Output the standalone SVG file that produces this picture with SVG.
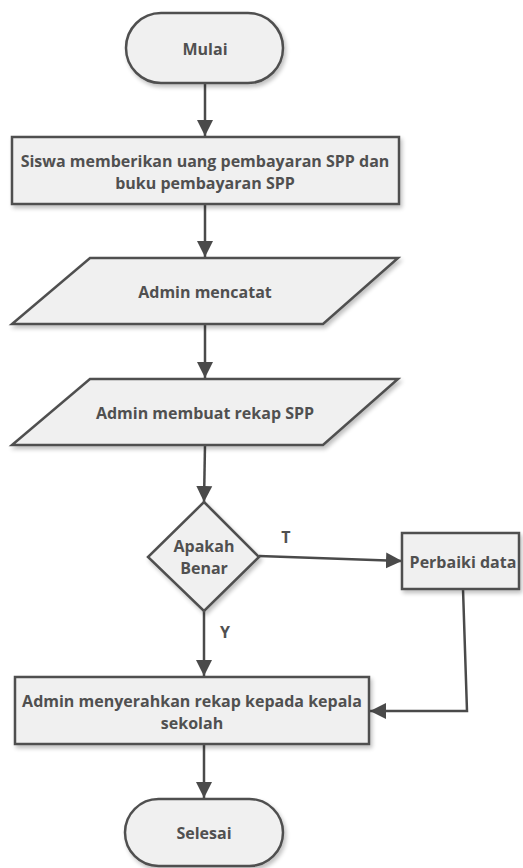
<svg xmlns="http://www.w3.org/2000/svg" width="523" height="868" viewBox="0 0 523 868">
<defs>
<marker id="ah" markerUnits="userSpaceOnUse" markerWidth="16" markerHeight="18" viewBox="0 0 16 18" refX="16" refY="9" orient="auto">
<path d="M0,1 L16,9 L0,17 Z" fill="#4a4a4a"/>
</marker>
<filter id="sh" x="-10%" y="-10%" width="130%" height="140%">
<feGaussianBlur in="SourceAlpha" stdDeviation="2"/>
<feOffset dx="2" dy="3" result="b"/>
<feComponentTransfer><feFuncA type="linear" slope="0.25"/></feComponentTransfer>
<feMerge><feMergeNode/><feMergeNode in="SourceGraphic"/></feMerge>
</filter>
</defs>
<style>
.n{fill:#f0f0f0;stroke:#505050;stroke-width:2.5;filter:url(#sh)}
.t{font-family:"Open Sans","DejaVu Sans",sans-serif;font-weight:bold;font-size:16px;fill:#505050;text-anchor:middle;dominant-baseline:central}
.c{fill:none;stroke:#4a4a4a;stroke-width:2.5}
</style>
<rect width="523" height="868" fill="#ffffff"/>
<g id="connectors">
<line class="c" x1="205" y1="84" x2="205" y2="136" marker-end="url(#ah)"/>
<line class="c" x1="205" y1="204" x2="205" y2="257" marker-end="url(#ah)"/>
<line class="c" x1="205" y1="324" x2="205" y2="378" marker-end="url(#ah)"/>
<line class="c" x1="205" y1="445" x2="204" y2="502" marker-end="url(#ah)"/>
<line class="c" x1="259" y1="556" x2="402" y2="561" marker-end="url(#ah)"/>
<line class="c" x1="204" y1="611" x2="204" y2="676" marker-end="url(#ah)"/>
<polyline class="c" points="463,589 467,711 370,711" marker-end="url(#ah)"/>
<line class="c" x1="204" y1="744" x2="204" y2="798" marker-end="url(#ah)"/>
<text class="t" x="286" y="537">T</text>
<text class="t" x="225" y="632">Y</text>
</g>
<g id="mulai">
<rect class="n" x="126" y="13" width="157" height="70" rx="35" ry="35"/>
<text class="t" x="205" y="49">Mulai</text>
</g>
<g id="siswa">
<rect class="n" x="12" y="137" width="387" height="67"/>
<text class="t" x="205" y="161">Siswa memberikan uang pembayaran SPP dan</text>
<text class="t" x="205" y="183">buku pembayaran SPP</text>
</g>
<g id="mencatat">
<polygon class="n" points="90,258 398,258 323,324 12,324"/>
<text class="t" x="205" y="292">Admin mencatat</text>
</g>
<g id="rekap">
<polygon class="n" points="90,379 398,379 323,445 12,445"/>
<text class="t" x="205" y="413">Admin membuat rekap SPP</text>
</g>
<g id="apakah">
<polygon class="n" points="204,502 259,557 204,611 148,557"/>
<text class="t" x="204" y="546">Apakah</text>
<text class="t" x="204" y="568">Benar</text>
</g>
<g id="perbaiki">
<rect class="n" x="402" y="533" width="117" height="56"/>
<text class="t" x="463" y="562">Perbaiki data</text>
</g>
<g id="menyerahkan">
<rect class="n" x="15" y="677" width="354" height="67"/>
<text class="t" x="192" y="701">Admin menyerahkan rekap kepada kepala</text>
<text class="t" x="192" y="723">sekolah</text>
</g>
<g id="selesai">
<rect class="n" x="125" y="799" width="158" height="67" rx="33.5" ry="33.5"/>
<text class="t" x="204" y="833">Selesai</text>
</g>
</svg>
